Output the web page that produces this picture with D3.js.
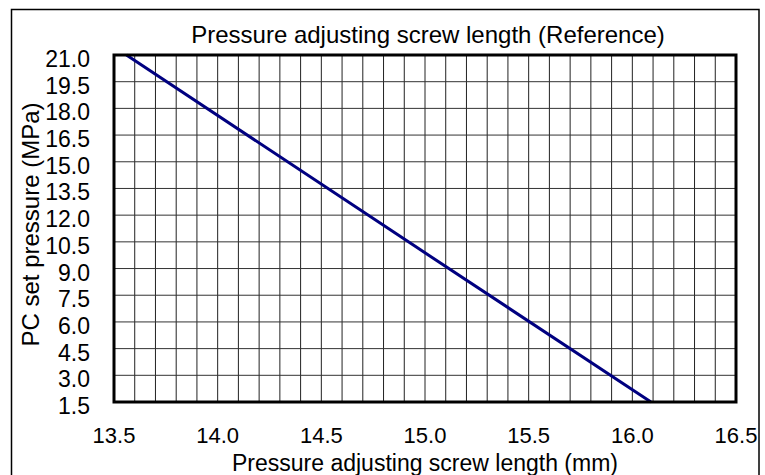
<!DOCTYPE html>
<html lang="en">
<head>
    <meta charset="UTF-8">
    <script src="https://cdnjs.cloudflare.com/ajax/libs/d3/7.8.5/d3.min.js"></script>
    <title>Pressure adjusting screw length</title>
    <style>
        body { margin: 0; background: #fff; }
        text { font-family: "Liberation Sans", Arial, sans-serif; fill: #000; }
    </style>
</head>
<body>
    <div id="chart"></div>
    <script>
        // data
        var screwLength = [13.56, 14.92, 16.09];
        var setPressure = [21.0, 10.5, 1.5];

        var xTicks = [13.5, 14.0, 14.5, 15.0, 15.5, 16.0, 16.5];
        var yTicks = [1.5, 3.0, 4.5, 6.0, 7.5, 9.0, 10.5, 12.0, 13.5, 15.0, 16.5, 18.0, 19.5, 21.0];
        var xMinorStep = 0.1;

        var W = 765, H = 475;
        // plot box (note: "top" is taken by window.top, so use other names)
        var pLeft = 114, pTop = 55, pRight = 736, pBottom = 402;

        var svg = d3.select("#chart").append("svg")
                    .attr("width", W)
                    .attr("height", H);

        // outer frame (bottom runs past the picture)
        svg.append("rect")
            .attr("x", 11.5).attr("y", 9.5)
            .attr("width", 747.5).attr("height", 480)
            .attr("fill", "none")
            .attr("stroke", "#000")
            .attr("stroke-width", 1.5);

        var x = d3.scaleLinear().domain([13.5, 16.5]).range([pLeft, pRight]);
        var y = d3.scaleLinear().domain([1.5, 21.0]).range([pBottom, pTop]);

        // grid
        var minor = d3.range(0, Math.round((16.5 - 13.5) / xMinorStep) + 1)
                      .map(function(i) { return 13.5 + i * xMinorStep; });

        svg.append("g").selectAll("line")
            .data(minor)
            .enter().append("line")
            .attr("x1", function(d) { return x(d); })
            .attr("x2", function(d) { return x(d); })
            .attr("y1", pTop).attr("y2", pBottom)
            .attr("stroke", "#222")
            .attr("stroke-width", 1);

        svg.append("g").selectAll("line")
            .data(yTicks)
            .enter().append("line")
            .attr("x1", pLeft).attr("x2", pRight)
            .attr("y1", function(d) { return y(d); })
            .attr("y2", function(d) { return y(d); })
            .attr("stroke", "#333")
            .attr("stroke-width", 1);

        // data line
        var pts = screwLength.map(function(d, i) { return [d, setPressure[i]]; });
        svg.append("path")
            .datum(pts)
            .attr("fill", "none")
            .attr("stroke", "#000080")
            .attr("stroke-width", 3)
            .attr("d", d3.line()
                .x(function(d) { return x(d[0]); })
                .y(function(d) { return y(d[1]); }));

        // plot border
        svg.append("rect")
            .attr("x", pLeft).attr("y", pTop)
            .attr("width", pRight - pLeft).attr("height", pBottom - pTop)
            .attr("fill", "none")
            .attr("stroke", "#000")
            .attr("stroke-width", 3);

        var fmt = d3.format(".1f");

        svg.append("g").selectAll("text")
            .data(yTicks)
            .enter().append("text")
            .attr("x", 90)
            .attr("y", function(d) { return y(d) + 12; })
            .attr("text-anchor", "end")
            .style("font-size", "23px")
            .text(fmt);

        svg.append("g").selectAll("text")
            .data(xTicks)
            .enter().append("text")
            .attr("x", function(d) { return x(d); })
            .attr("y", 443)
            .attr("text-anchor", "middle")
            .style("font-size", "22px")
            .text(fmt);

        svg.append("text")
            .attr("x", (pLeft + pRight) / 2 + 3)
            .attr("y", 43)
            .attr("text-anchor", "middle")
            .style("font-size", "24px")
            .text("Pressure adjusting screw length (Reference)");

        svg.append("text")
            .attr("x", (pLeft + pRight) / 2)
            .attr("y", 471)
            .attr("text-anchor", "middle")
            .style("font-size", "23px")
            .text("Pressure adjusting screw length (mm)");

        svg.append("text")
            .attr("transform", "translate(39," + ((pTop + pBottom) / 2 - 4) + ") rotate(-90)")
            .attr("text-anchor", "middle")
            .style("font-size", "24px")
            .text("PC set pressure (MPa)");
    </script>
</body>
</html>
